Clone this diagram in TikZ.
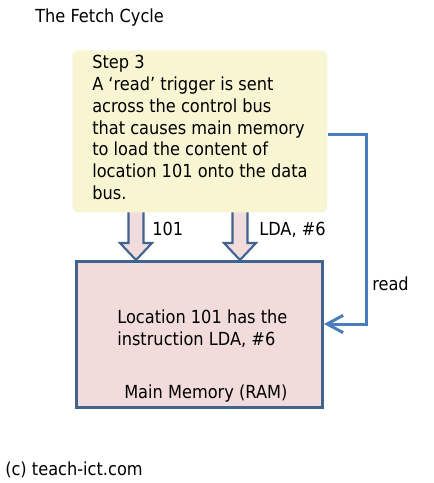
\documentclass[tikz,border=0pt]{standalone}
\usepackage{fontspec}
\setmainfont{DejaVu Sans}[FakeStretch=0.9]
\usetikzlibrary{arrows.meta,calc}
\definecolor{boxyellow}{HTML}{F8F6D2}
\definecolor{mempink}{HTML}{F2DCDB}
\definecolor{memblue}{HTML}{41638F}
\definecolor{linkblue}{HTML}{4A7EBB}
\begin{document}
\begin{tikzpicture}[x=0.75pt,y=-0.75pt,
  txt/.style={font=\fontsize{13.5}{16.3}\selectfont, inner sep=0pt, anchor=base west, align=left},
  blockarrow/.style={draw=memblue, line width=1.6pt, fill=mempink, line join=miter},
  readline/.style={draw=linkblue, line width=2.25pt, -{Straight Barb[length=12pt,width=13pt,line width=2.25pt]}}]
\useasboundingbox (0,0) rectangle (433,483);
\fill[white] (0,0) rectangle (433,483);

\node[txt] (title) at (35,22.7) {The Fetch Cycle};

\node (mem) [draw=memblue, line width=2.25pt, fill=mempink, inner sep=0pt, minimum width=184.5pt, minimum height=109.5pt, anchor=north west] at (75,260) {};

\foreach \cx in {136,240} {
  \draw[blockarrow] (\cx-7.5,205) -- (\cx+7.5,205) -- (\cx+7.5,243) -- (\cx+16,243) -- (\cx,260) -- (\cx-16,243) -- (\cx-7.5,243) -- cycle;
}

\node (step) [fill=boxyellow, rounded corners=4pt, inner sep=0pt, minimum width=191.25pt, minimum height=121.5pt, anchor=north west] at (72,50) {};

% anchor base west of a multi-line node = baseline of its last line
\node[txt] (steptext) at (92,199.2) {Step 3\\A ‘read’ trigger is sent\\across the control bus\\that causes main memory\\to load the content of\\location 101 onto the data\\bus.};

\draw[readline] ($(step.north east)+(0,84)$) -- (366,134) -- (366,324) -- ($(mem.north east)+(0,64)$);

\node[txt] (lab1) at (152,235.7) {101};
\node[txt] (lab2) at (259,235.7) {LDA, \#6};
\node[txt] (labread) at (372,290.7) {read};

\node[txt, font=\fontsize{13.5}{16.5}\selectfont] (memtext) at (117,345) {Location 101 has the\\instruction LDA, \#6};
\node[txt] (memname) at (124,398) {Main Memory (RAM)};

\node[txt] (copy) at (5,475) {(c) teach-ict.com};
\end{tikzpicture}
\end{document}
